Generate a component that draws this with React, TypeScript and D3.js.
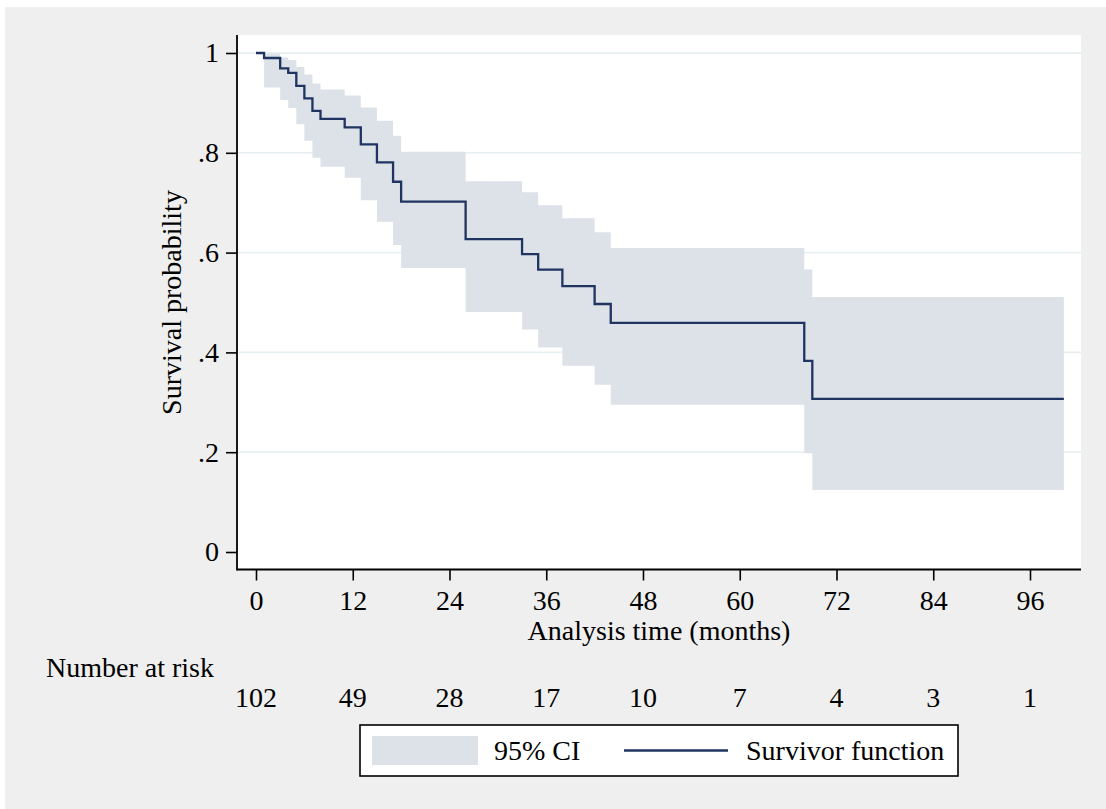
import React, { useEffect, useRef } from 'react';
import * as d3 from 'd3';

// Kaplan-Meier estimate (months, probability)
const times = [0, 1, 3, 4, 5, 6, 7, 8, 11, 13, 15, 17, 18, 26, 33, 35, 38, 42, 44, 68, 69];
const survival = [1, 0.990, 0.969, 0.960, 0.934, 0.909, 0.884, 0.868, 0.851, 0.817, 0.781, 0.742, 0.702, 0.627, 0.597, 0.566, 0.533, 0.497, 0.459, 0.383, 0.307];
const ciLower = [1, 0.931, 0.906, 0.890, 0.857, 0.824, 0.790, 0.772, 0.750, 0.705, 0.662, 0.615, 0.569, 0.481, 0.446, 0.410, 0.373, 0.335, 0.295, 0.198, 0.124];
const ciUpper = [1, 0.999, 0.991, 0.986, 0.972, 0.957, 0.939, 0.927, 0.915, 0.891, 0.864, 0.834, 0.802, 0.743, 0.721, 0.695, 0.669, 0.641, 0.609, 0.566, 0.511];
const lastTime = 100.2;

const xTicks = [0, 12, 24, 36, 48, 60, 72, 84, 96];
const yTicks = [0, 0.2, 0.4, 0.6, 0.8, 1];
const atRisk = [102, 49, 28, 17, 10, 7, 4, 3, 1];

const FONT = '"Liberation Serif", "Times New Roman", serif';
const FS = 28;

const App = () => {
  const ref = useRef<SVGSVGElement>(null);

  useEffect(() => {
    const svg = d3.select(ref.current);
    svg.selectAll('*').remove();

    const width = 1106;
    const height = 809;
    const plot = { left: 237, right: 1081, top: 35, bottom: 569.5 };

    const x = d3.scaleLinear().domain([0, 96]).range([256, 1030]);
    const y = d3.scaleLinear().domain([0, 1]).range([552, 53]);

    // Background panels
    svg.append('rect').attr('width', width).attr('height', height).attr('fill', '#ffffff');
    svg.append('rect').attr('x', 5).attr('y', 7).attr('width', width - 5).attr('height', height - 7).attr('fill', '#efefef');
    svg.append('rect')
      .attr('x', plot.left).attr('y', plot.top)
      .attr('width', plot.right - plot.left).attr('height', plot.bottom - plot.top)
      .attr('fill', '#ffffff');

    // Gridlines
    svg.append('g').selectAll('line')
      .data(yTicks.filter(d => d > 0))
      .enter().append('line')
      .attr('x1', plot.left + 1).attr('x2', plot.right)
      .attr('y1', d => y(d)).attr('y2', d => y(d))
      .attr('stroke', '#e8f0f2').attr('stroke-width', 1.8);

    // Confidence band
    const band = times.map((t, i) => ({ t, lo: ciLower[i], hi: ciUpper[i] })).slice(1);
    band.push({ t: lastTime, lo: ciLower[ciLower.length - 1], hi: ciUpper[ciUpper.length - 1] });
    const area = d3.area<{ t: number; lo: number; hi: number }>()
      .curve(d3.curveStepAfter)
      .x(d => x(d.t))
      .y0(d => y(d.lo))
      .y1(d => y(d.hi));
    svg.append('path').datum(band).attr('d', area).attr('fill', '#dde2e9');

    // Survivor function
    const pts: [number, number][] = times.map((t, i) => [t, survival[i]]);
    pts.push([lastTime, survival[survival.length - 1]]);
    const line = d3.line<[number, number]>()
      .curve(d3.curveStepAfter)
      .x(d => x(d[0]))
      .y(d => y(d[1]));
    svg.append('path').datum(pts).attr('d', line)
      .attr('fill', 'none').attr('stroke', '#1f3461').attr('stroke-width', 2.3);

    // Axes
    const xAxis = svg.append('g')
      .attr('transform', `translate(0,${plot.bottom})`)
      .call(d3.axisBottom(x).tickValues(xTicks).tickSize(11).tickPadding(10).tickFormat(d3.format('d')));
    xAxis.select('.domain').remove();

    const fmtY = (d: number) => (d === 0 ? '0' : d === 1 ? '1' : d3.format('.1f')(d).replace(/^0/, ''));
    const yAxis = svg.append('g')
      .attr('transform', `translate(${plot.left},0)`)
      .call(d3.axisLeft(y).tickValues(yTicks).tickSize(11).tickPadding(7).tickFormat(d => fmtY(+d)));
    yAxis.select('.domain').remove();

    svg.selectAll('.tick line').attr('stroke', '#000').attr('stroke-width', 1.6);
    svg.selectAll('.tick text').attr('font-family', FONT).attr('font-size', FS).attr('fill', '#000');

    svg.append('line')
      .attr('x1', plot.left).attr('x2', plot.right)
      .attr('y1', plot.bottom).attr('y2', plot.bottom)
      .attr('stroke', '#000').attr('stroke-width', 1.8);
    svg.append('line')
      .attr('x1', plot.left).attr('x2', plot.left)
      .attr('y1', plot.top).attr('y2', plot.bottom + 0.9)
      .attr('stroke', '#000').attr('stroke-width', 1.8);

    // Axis titles
    svg.append('text')
      .attr('x', (plot.left + plot.right) / 2).attr('y', 640)
      .attr('text-anchor', 'middle')
      .attr('font-family', FONT).attr('font-size', FS)
      .text('Analysis time (months)');
    svg.append('text')
      .attr('transform', `translate(181,${(y(0) + y(1)) / 2}) rotate(-90)`)
      .attr('text-anchor', 'middle')
      .attr('font-family', FONT).attr('font-size', FS)
      .text('Survival probability');

    // Number at risk table
    svg.append('text')
      .attr('x', 46).attr('y', 677)
      .attr('font-family', FONT).attr('font-size', FS)
      .text('Number at risk');
    svg.append('g').selectAll('text')
      .data(atRisk)
      .enter().append('text')
      .attr('x', (d, i) => x(xTicks[i]))
      .attr('y', 707)
      .attr('text-anchor', 'middle')
      .attr('font-family', FONT).attr('font-size', FS)
      .text(d => d);

    // Legend
    const legend = svg.append('g');
    legend.append('rect')
      .attr('x', 360).attr('y', 725).attr('width', 598).attr('height', 51)
      .attr('fill', '#ffffff').attr('stroke', '#000').attr('stroke-width', 1.6);
    legend.append('rect')
      .attr('x', 372).attr('y', 736).attr('width', 106).attr('height', 29)
      .attr('fill', '#dde2e9');
    legend.append('text')
      .attr('x', 494).attr('y', 760)
      .attr('font-family', FONT).attr('font-size', FS)
      .text('95% CI');
    legend.append('line')
      .attr('x1', 624).attr('x2', 728).attr('y1', 750.5).attr('y2', 750.5)
      .attr('stroke', '#1f3461').attr('stroke-width', 2.3);
    legend.append('text')
      .attr('x', 746).attr('y', 760)
      .attr('font-family', FONT).attr('font-size', FS)
      .text('Survivor function');
  }, []);

  return (
    <svg
      ref={ref}
      width={1106}
      height={809}
      style={{ position: 'absolute', left: 0, top: 0 }}
    />
  );
};

export default App;
